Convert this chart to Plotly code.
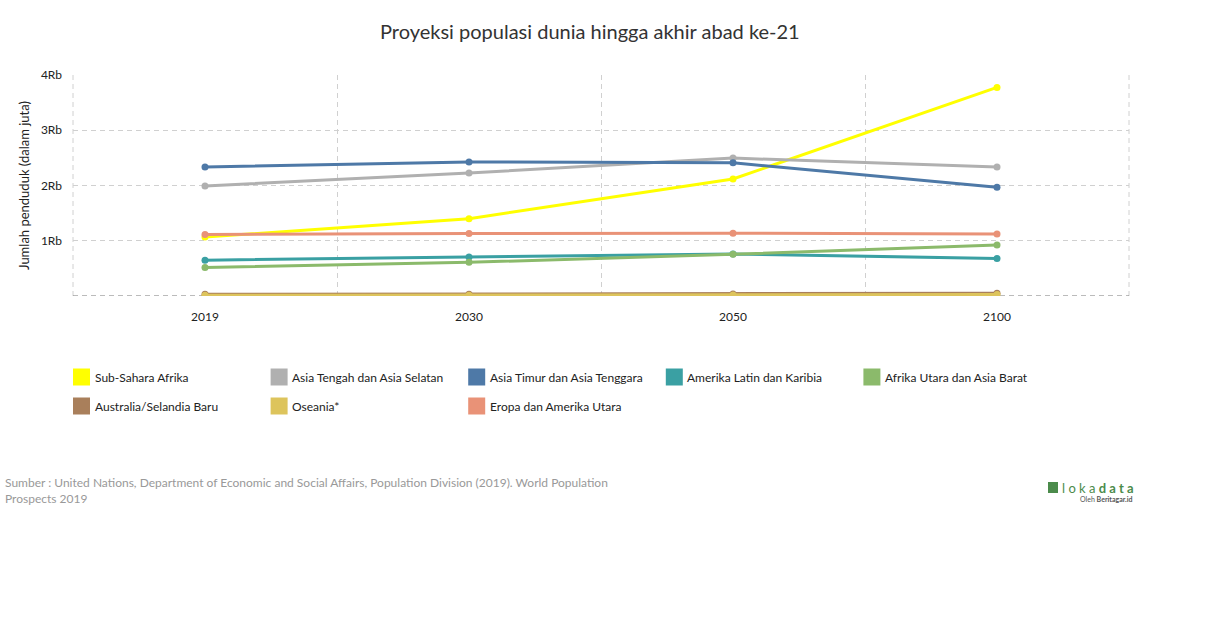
import plotly.graph_objects as go

years = ["2019", "2030", "2050", "2100"]
series_names = [
    "Sub-Sahara Afrika",
    "Asia Tengah dan Asia Selatan",
    "Asia Timur dan Asia Tenggara",
    "Amerika Latin dan Karibia",
    "Afrika Utara dan Asia Barat",
    "Australia/Selandia Baru",
    "Oseania*",
    "Eropa dan Amerika Utara",
]
sub_sahara = [1066, 1400, 2118, 3775]
asia_tengah = [1991, 2227, 2496, 2334]
asia_timur = [2335, 2427, 2411, 1967]
amerika_latin = [648, 706, 762, 680]
afrika_utara = [517, 609, 754, 924]
australia = [30, 33, 38, 49]
oseania = [12, 15, 19, 26]
eropa = [1114, 1132, 1136, 1120]
values = [sub_sahara, asia_tengah, asia_timur, amerika_latin, afrika_utara,
          australia, oseania, eropa]
colors = ["#FFFF00", "#B0B0B0", "#4E79A7", "#3AA0A3", "#8BBA6B",
          "#A97F5B", "#DDC45C", "#E99277"]
ytick_vals = [1000, 2000, 3000, 4000]
ytick_text = ["1Rb", "2Rb", "3Rb", "4Rb"]

FONT = "Lato"
W, H = 1210, 628
L, R, T, B = 73, 81, 75, 332
PW = W - L - R
PH = H - T - B
GRID = "#D0D0D0"
DASH = "5px,4px"

fig = go.Figure()
for name, vals, col in zip(series_names, values, colors):
    fig.add_trace(go.Scatter(
        x=years, y=vals, name=name, mode="lines+markers",
        line=dict(color=col, width=3),
        marker=dict(color=col, size=7),
        showlegend=False,
    ))

# edge vertical grid lines
for xp in (0, 1):
    fig.add_shape(type="line", xref="paper", yref="paper", x0=xp, x1=xp, y0=0, y1=1,
                  line=dict(color=GRID, width=1, dash=DASH), layer="below")
# zero line (dashed, darker)
fig.add_shape(type="line", xref="paper", yref="y", x0=0, x1=1, y0=0, y1=0,
              line=dict(color="#777777", width=1, dash=DASH), layer="below")

# manual legend
col_w = 197.6
row_h = 29
for i, (name, col) in enumerate(zip(series_names, colors)):
    r, c = divmod(i, 5)
    px = L + c * col_w
    py = 377 + r * row_h
    x0 = (px - L) / PW
    x1 = (px + 17 - L) / PW
    y_top = 1 - (py - 8.5 - T) / PH
    y_bot = 1 - (py + 8.5 - T) / PH
    fig.add_shape(type="rect", xref="paper", yref="paper",
                  x0=x0, x1=x1, y0=y_bot, y1=y_top,
                  fillcolor=col, line=dict(width=0))
    fig.add_annotation(xref="paper", yref="paper",
                       x=(px + 19.5 - L) / PW, y=1 - (py - T) / PH,
                       text=name, showarrow=False, xanchor="left", yanchor="middle",
                       font=dict(family=FONT, size=12, color="#222222"))

# title
fig.add_annotation(xref="paper", yref="paper", x=(590 - L) / PW, y=1 - (33 - T) / PH,
                   text="Proyeksi populasi dunia hingga akhir abad ke-21",
                   showarrow=False, xanchor="center", yanchor="bottom",
                   yshift=-12,
                   font=dict(family=FONT, size=20, color="#333333"))

# source
fig.add_annotation(xref="paper", yref="paper", x=(3 - L) / PW, y=1 - (473 - T) / PH,
                   text="Sumber : United Nations, Department of Economic and Social Affairs, Population Division (2019). World Population<br>Prospects 2019",
                   showarrow=False, xanchor="left", yanchor="top", align="left",
                   font=dict(family=FONT, size=12, color="#999999"))

# logo
fig.add_shape(type="rect", xref="paper", yref="paper",
              x0=(1048 - L) / PW, x1=(1058 - L) / PW,
              y0=1 - (493 - T) / PH, y1=1 - (482 - T) / PH,
              fillcolor="#4B8B4B", line=dict(width=0))
fig.add_annotation(xref="paper", yref="paper", x=(1136 - L) / PW, y=1 - (487.5 - T) / PH,
                   text="l o k a <b>d a t a</b>", showarrow=False,
                   xanchor="right", yanchor="middle",
                   font=dict(family=FONT, size=13, color="#4B8B4B"))
fig.add_annotation(xref="paper", yref="paper", x=(1134 - L) / PW, y=1 - (499 - T) / PH,
                   text="Oleh <b>Beritagar.id</b>", showarrow=False,
                   xanchor="right", yanchor="middle",
                   font=dict(family=FONT, size=7, color="#555555"))

fig.update_layout(
    width=W, height=H,
    margin=dict(l=L, r=R, t=T, b=B),
    paper_bgcolor="white", plot_bgcolor="white",
    font=dict(family=FONT, size=12, color="#333333"),
    showlegend=False,
    xaxis=dict(
        type="category", range=[-0.5, 3.5], tickson="boundaries",
        showgrid=True, gridcolor=GRID, griddash=DASH, gridwidth=1,
        zeroline=False, showline=False, ticks="",
        tickfont=dict(family=FONT, size=12, color="#222222"),
        ticklabelstandoff=12,
    ),
    yaxis=dict(
        range=[0, 4000], tickvals=ytick_vals, ticktext=ytick_text,
        showgrid=True, gridcolor=GRID, griddash=DASH, gridwidth=1,
        zeroline=False, showline=False, ticks="",
        tickfont=dict(family=FONT, size=12, color="#222222"),
        ticklabelstandoff=10,
        title=dict(text="Jumlah penduduk (dalam juta)", standoff=8,
                   font=dict(family=FONT, size=13, color="#222222")),
    ),
)

fig.write_html("out.html")
